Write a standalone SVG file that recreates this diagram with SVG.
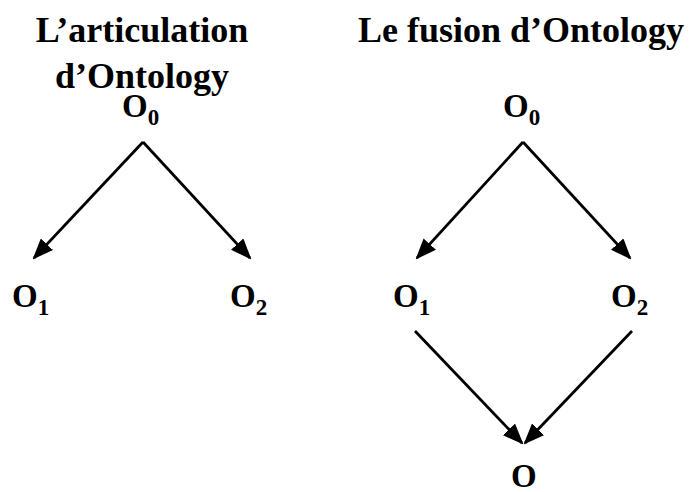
<svg xmlns="http://www.w3.org/2000/svg" width="693" height="492" viewBox="0 0 693 492">
<defs>
<style>
.t{font-family:"Liberation Serif","Times New Roman",serif;font-weight:bold;fill:#000}
.title{font-size:36px;text-anchor:middle}
.n{font-size:33px}
.s{font-size:23px}
.e{stroke:#000;stroke-width:2.8;fill:none;marker-end:url(#ah)}
</style>
<marker id="ah" viewBox="0 0 10 8" refX="9" refY="4" markerWidth="7.5" markerHeight="6" markerUnits="strokeWidth" orient="auto">
<path d="M0,0 L10,4 L0,8 z" fill="#000"/>
</marker>
</defs>
<rect width="693" height="492" fill="#fff"/>
<g id="titles">
<text class="t title" x="142" y="42">L’articulation</text>
<text class="t title" x="142" y="88">d’Ontology</text>
<text class="t title" x="521" y="42">Le fusion d’Ontology</text>
</g>
<g id="connectors">
<line class="e" x1="143" y1="142" x2="34" y2="258"/>
<line class="e" x1="143" y1="142" x2="250" y2="258"/>
<line class="e" x1="523" y1="142" x2="417" y2="258"/>
<line class="e" x1="523" y1="142" x2="630" y2="258"/>
<line class="e" x1="415" y1="331" x2="522" y2="443"/>
<line class="e" x1="632" y1="331" x2="525" y2="443"/>
</g>
<g id="L-O0"><text class="t n" x="122" y="117">O<tspan class="s" dy="8">0</tspan></text></g>
<g id="L-O1"><text class="t n" x="12" y="307">O<tspan class="s" dy="8">1</tspan></text></g>
<g id="L-O2"><text class="t n" x="230" y="307">O<tspan class="s" dy="8">2</tspan></text></g>
<g id="R-O0"><text class="t n" x="503" y="117">O<tspan class="s" dy="8">0</tspan></text></g>
<g id="R-O1"><text class="t n" x="393" y="307">O<tspan class="s" dy="8">1</tspan></text></g>
<g id="R-O2"><text class="t n" x="611" y="307">O<tspan class="s" dy="8">2</tspan></text></g>
<g id="R-O"><text class="t n" x="511" y="487">O</text></g>
</svg>
